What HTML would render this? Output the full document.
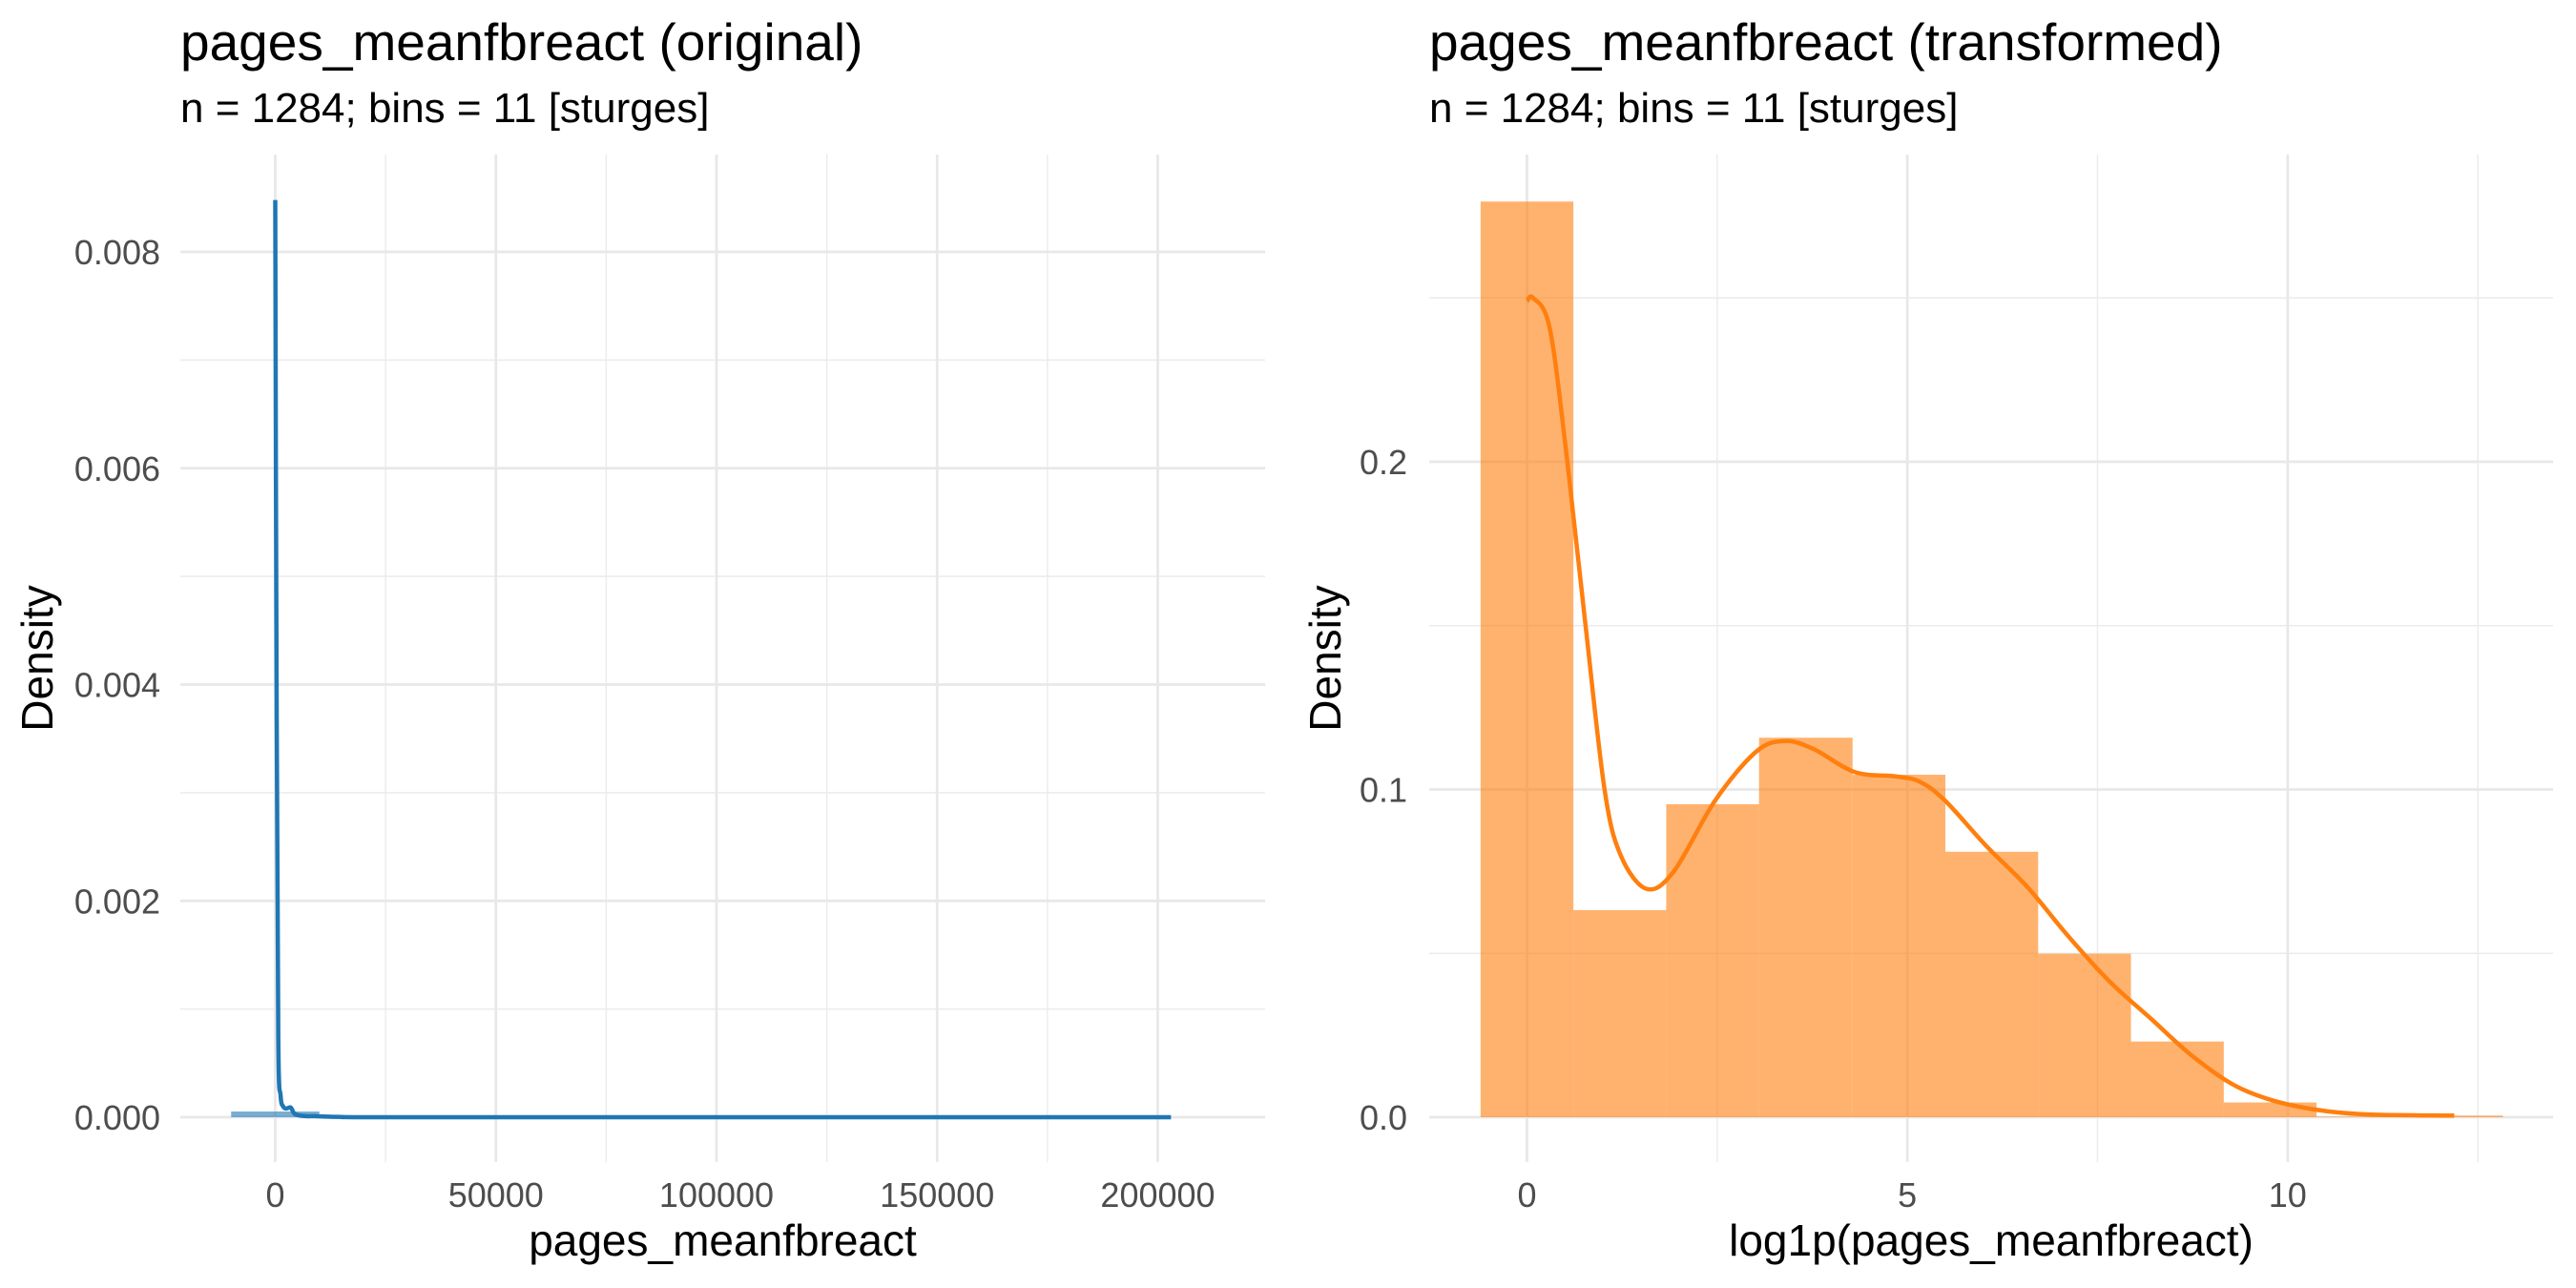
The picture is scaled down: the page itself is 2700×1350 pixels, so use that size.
<!DOCTYPE html>
<html><head><meta charset="utf-8"><style>
html,body{margin:0;padding:0;background:#fff;}
svg{display:block;font-family:"Liberation Sans",Arial,sans-serif;}
</style></head><body>
<svg id="chart" width="2700" height="1350" viewBox="0 0 2700 1350">
<g id="left"></g>
<g id="right"></g>
</svg>
<script>
// ---- data: left (original) ----
const leftXTicks = [0, 50000, 100000, 150000, 200000];
const leftXMinor = [25000, 75000, 125000, 175000];
const leftYTicks = [0, 0.002, 0.004, 0.006, 0.008];
const leftYTickLabels = ["0.000", "0.002", "0.004", "0.006", "0.008"];
const leftYMinor = [0.001, 0.003, 0.005, 0.007];
const leftHistEdges = [-10000, 10000];
const leftHistHeights = [0.00005];
const leftDensX = [0, 300, 700, 1200, 1800, 2500, 3500, 4200, 5000, 7000, 9000, 12000, 15000, 20000, 60000, 100000, 150000, 203000];
const leftDensY = [0.00848, 0.0040, 0.00072, 0.00020, 0.00010, 0.00008, 0.00009, 0.00004, 0.00002, 0.00001, 0.00001, 0.000005, 0.000003, 0, 0, 0, 0, 0];
// ---- data: right (transformed) ----
const rightXTicks = [0, 5, 10];
const rightXMinor = [2.5, 7.5, 12.5];
const rightYTicks = [0, 0.1, 0.2];
const rightYTickLabels = ["0.0", "0.1", "0.2"];
const rightYMinor = [0.05, 0.15, 0.25];
const rightHistEdges = [-0.61, 0.61, 1.83, 3.05, 4.28, 5.5, 6.72, 7.94, 9.16, 10.38, 11.6, 12.83];
const rightHistHeights = [0.2794, 0.0632, 0.0955, 0.1158, 0.1045, 0.081, 0.0499, 0.0231, 0.0045, 0.0002, 0.0005];
const rightDensX = [0, 0.08, 0.3, 0.53, 0.77, 1.02, 1.23, 1.57, 1.93, 2.47, 3.01, 3.39, 3.77, 4.31, 4.85, 5.17, 5.5, 6.04, 6.58, 7.12, 7.66, 8.2, 8.74, 9.28, 9.82, 10.46, 11.11, 12.19];
const rightDensY = [0.249, 0.25, 0.2406, 0.2, 0.15, 0.1, 0.08, 0.0697, 0.075, 0.0965, 0.1115, 0.1148, 0.1123, 0.1053, 0.104, 0.1023, 0.0965, 0.0827, 0.0702, 0.0551, 0.0414, 0.0301, 0.0188, 0.01, 0.005, 0.002, 0.0008, 0.0005];

const NS = "http://www.w3.org/2000/svg";
function mk(parent, tag, attrs, text) {
  const e = document.createElementNS(NS, tag);
  for (const k in attrs) e.setAttribute(k, attrs[k]);
  if (text !== undefined) e.textContent = text;
  parent.appendChild(e);
  return e;
}
function smoothPath(pts) {
  let d = "M" + pts[0][0].toFixed(1) + "," + pts[0][1].toFixed(1);
  for (let i = 0; i < pts.length - 1; i++) {
    const p0 = pts[Math.max(0, i - 1)], p1 = pts[i], p2 = pts[i + 1], p3 = pts[Math.min(pts.length - 1, i + 2)];
    const c1x = p1[0] + (p2[0] - p0[0]) / 6, c1y = p1[1] + (p2[1] - p0[1]) / 6;
    const c2x = p2[0] - (p3[0] - p1[0]) / 6, c2y = p2[1] - (p3[1] - p1[1]) / 6;
    d += " C" + c1x.toFixed(1) + "," + c1y.toFixed(1) + " " + c2x.toFixed(1) + "," + c2y.toFixed(1) + " " + p2[0].toFixed(1) + "," + p2[1].toFixed(1);
  }
  return d;
}

function panel(g, cfg) {
  const sx = v => cfg.x0 + (v - cfg.xv0) * cfg.xs;
  const sy = v => cfg.y0 - v * cfg.ys;
  cfg.yMinor.forEach(v => {
    const l = mk(g, "line", {x1: cfg.L, x2: cfg.R, y1: sy(v), y2: sy(v), stroke: "#ebebeb", "stroke-width": 1.4});
    
    
  });
  cfg.xMinor.forEach(v => {
    const l = mk(g, "line", {x1: sx(v), x2: sx(v), y1: cfg.T, y2: cfg.B, stroke: "#ebebeb", "stroke-width": 1.4});
    
    
  });
  cfg.yTicks.forEach((v, i) => {
    const l = mk(g, "line", {x1: cfg.L, x2: cfg.R, y1: sy(v), y2: sy(v), stroke: "#e8e8e8", "stroke-width": 2.8});
    
    
    const t = mk(g, "text", {x: cfg.yLabX, y: sy(v) + 13, "text-anchor": "end", "font-size": 36, fill: "#4d4d4d"}, cfg.yLabels[i]);
    
    
  });
  cfg.xTicks.forEach(v => {
    const l = mk(g, "line", {x1: sx(v), x2: sx(v), y1: cfg.T, y2: cfg.B, stroke: "#e8e8e8", "stroke-width": 2.8});
    
    
    const t = mk(g, "text", {x: sx(v), y: 1265, "text-anchor": "middle", "font-size": 36, fill: "#4d4d4d"}, String(v));
    
    
  });
  cfg.heights.forEach((h, i) => {
    const x1 = sx(cfg.edges[i]), x2 = sx(cfg.edges[i + 1]);
    const hh = Math.max(h * cfg.ys, cfg.minH);
    const r = mk(g, "rect", {x: x1, y: cfg.y0 - hh, width: x2 - x1, height: hh, fill: cfg.color, "fill-opacity": 0.6});
    
    
  });
  const pts = cfg.dx.map((x, i) => [sx(x), sy(cfg.dy[i])]);
  const p = mk(g, "path", {d: smoothPath(pts), fill: "none", stroke: cfg.color, "stroke-width": 4.5, "stroke-linejoin": "round"});
  
  
  const t1 = mk(g, "text", {x: cfg.L, y: 63, "font-size": 55, fill: "#000"}, cfg.title);
  
  
  const t2 = mk(g, "text", {x: cfg.L, y: 128, "font-size": 44, fill: "#000"}, "n = 1284; bins = 11 [sturges]");
  
  
  const t3 = mk(g, "text", {x: (cfg.L + cfg.R) / 2, y: 1316, "text-anchor": "middle", "font-size": 46, fill: "#000"}, cfg.xTitle);
  
  
  const cy = (cfg.T + cfg.B) / 2;
  const t4 = mk(g, "text", {x: cfg.yTitleX, y: cy, "text-anchor": "middle", "font-size": 46, fill: "#000", transform: "rotate(-90 " + cfg.yTitleX + " " + cy + ")"}, "Density");
  
  
}

panel(document.getElementById("left"), {
  L: 189, R: 1326, T: 162, B: 1218, x0: 288.5, xv0: 0, xs: (1213.5 - 288.5) / 200000,
  y0: 1171, ys: (1171 - 264) / 0.008, xTicks: leftXTicks, xMinor: leftXMinor,
  yTicks: leftYTicks, yLabels: leftYTickLabels, yMinor: leftYMinor,
  edges: leftHistEdges, heights: leftHistHeights, minH: 6, dx: leftDensX, dy: leftDensY,
  color: "#1f77b4", title: "pages_meanfbreact (original)", xTitle: "pages_meanfbreact",
  yLabX: 168, yTitleX: 55
});
panel(document.getElementById("right"), {
  L: 1498, R: 2676, T: 162, B: 1218, x0: 1600.5, xv0: 0, xs: (2397.8 - 1600.5) / 10,
  y0: 1171, ys: (1171 - 484) / 0.2, xTicks: rightXTicks, xMinor: rightXMinor,
  yTicks: rightYTicks, yLabels: rightYTickLabels, yMinor: rightYMinor,
  edges: rightHistEdges, heights: rightHistHeights, minH: 0, dx: rightDensX, dy: rightDensY,
  color: "#ff7f0e", title: "pages_meanfbreact (transformed)", xTitle: "log1p(pages_meanfbreact)",
  yLabX: 1475, yTitleX: 1405
});
</script>
</body></html>
